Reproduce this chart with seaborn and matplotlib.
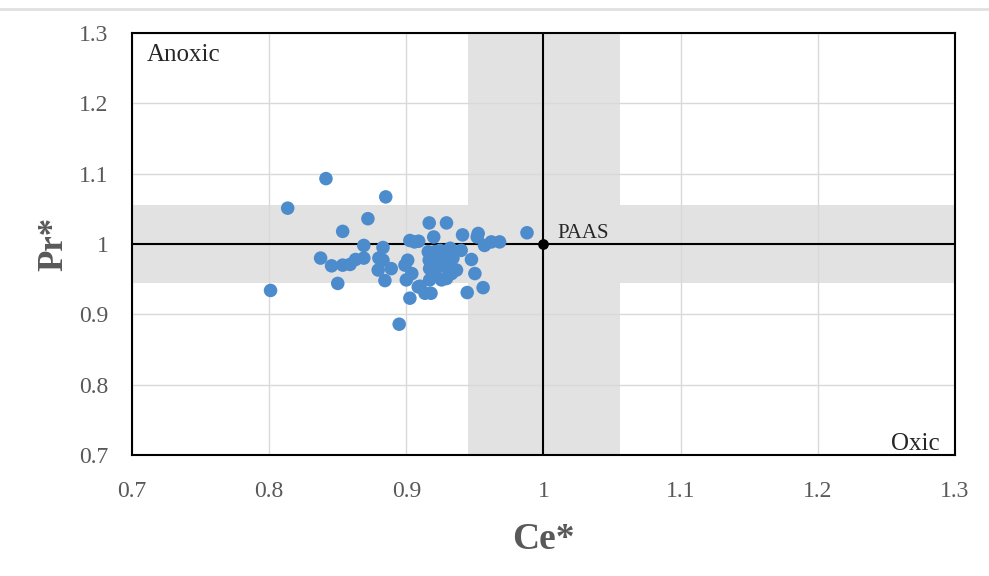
import matplotlib
matplotlib.use("Agg")
import matplotlib.pyplot as plt
import seaborn as sns
import pandas as pd
from matplotlib.lines import Line2D

# Ce* and Pr* anomaly values
ce_star = [0.801, 0.8135, 0.8414, 0.8375, 0.8455, 0.850, 0.8536, 0.8536, 0.859, 0.863,
           0.869, 0.869, 0.872, 0.880, 0.8795, 0.883, 0.883, 0.8844, 0.885, 0.889,
           0.8948, 0.899, 0.901, 0.900, 0.904, 0.9026, 0.906, 0.9026, 0.909, 0.9087,
           0.9136, 0.918, 0.9167, 0.920, 0.916, 0.9167, 0.917, 0.9196, 0.917, 0.9208,
           0.9208, 0.9245, 0.927, 0.9257, 0.9293, 0.9293, 0.932, 0.934, 0.933, 0.9366,
           0.940, 0.941, 0.9444, 0.9475, 0.950, 0.9517, 0.9524, 0.956, 0.957, 0.962,
           0.968, 0.988, 0.928, 0.922, 0.930, 0.910]
pr_star = [0.934, 1.051, 1.093, 0.980, 0.969, 0.944, 1.018, 0.970, 0.971, 0.978,
           0.980, 0.998, 1.036, 0.980, 0.963, 0.995, 0.977, 0.948, 1.067, 0.965,
           0.886, 0.970, 0.977, 0.949, 0.958, 1.005, 1.003, 0.923, 1.004, 0.939,
           0.930, 0.930, 1.030, 1.010, 0.989, 0.977, 0.965, 0.956, 0.949, 0.960,
           0.989, 0.991, 0.984, 0.949, 0.951, 1.030, 0.994, 0.980, 0.958, 0.963,
           0.991, 1.013, 0.931, 0.978, 0.958, 1.010, 1.015, 0.938, 0.998, 1.003,
           1.003, 1.016, 0.968, 0.975, 0.972, 0.940]

paas_x, paas_y = 1.0, 1.0
band_lo, band_hi = 0.945, 1.056
ticks = [0.7, 0.8, 0.9, 1.0, 1.1, 1.2, 1.3]
tick_labels = ["0.7", "0.8", "0.9", "1", "1.1", "1.2", "1.3"]

df = pd.DataFrame({"Ce*": ce_star, "Pr*": pr_star})

sns.set_style("white")
plt.rcParams["font.family"] = ["Liberation Serif", "DejaVu Serif"]

fig = plt.figure(figsize=(9.89, 5.76), dpi=100)
ax = fig.add_axes([0.1335, 0.21, 0.832, 0.7327])

# shaded bands around PAAS
ax.axvspan(band_lo, band_hi, color="#e2e2e2", zorder=0, lw=0)
ax.axhspan(band_lo, band_hi, color="#e2e2e2", zorder=0, lw=0)

ax.set_xticks(ticks)
ax.set_yticks(ticks)
ax.grid(True, color="#d9d9d9", lw=1, zorder=0.5)
ax.set_axisbelow(True)

ax.axvline(1.0, color="black", lw=1.5, zorder=2)
ax.axhline(1.0, color="black", lw=1.5, zorder=2)

sns.scatterplot(data=df, x="Ce*", y="Pr*", ax=ax, color="#4d8ccc", s=95,
                edgecolor="none", zorder=3)
ax.scatter([paas_x], [paas_y], color="black", s=45, zorder=4)
ax.text(paas_x + 0.01, paas_y + 0.002, "PAAS", fontsize=15, va="bottom", ha="left", zorder=5)

ax.set_xlim(0.7, 1.3)
ax.set_ylim(0.7, 1.3)
ax.set_xticklabels(tick_labels)
ax.set_yticklabels(tick_labels)
ax.tick_params(axis="x", length=0, labelsize=17, labelcolor="#595959", pad=19)
ax.tick_params(axis="y", length=0, labelsize=17, labelcolor="#595959", pad=17)

for sp in ax.spines.values():
    sp.set_color("black")
    sp.set_linewidth(1.5)

ax.set_xlabel("Ce*", fontsize=27, fontweight="bold", color="#595959", labelpad=14)
ax.set_ylabel("Pr*", fontsize=25, fontweight="bold", color="#595959", labelpad=6)

ax.text(0.018, 0.975, "Anoxic", transform=ax.transAxes, fontsize=18, va="top", ha="left")
ax.text(0.982, 0.0, "Oxic", transform=ax.transAxes, fontsize=18, va="bottom", ha="right")

fig.add_artist(Line2D([0, 1], [0.985, 0.985], transform=fig.transFigure,
                      color="#e0e0e0", lw=2))

fig.savefig("out.png", dpi=100)
